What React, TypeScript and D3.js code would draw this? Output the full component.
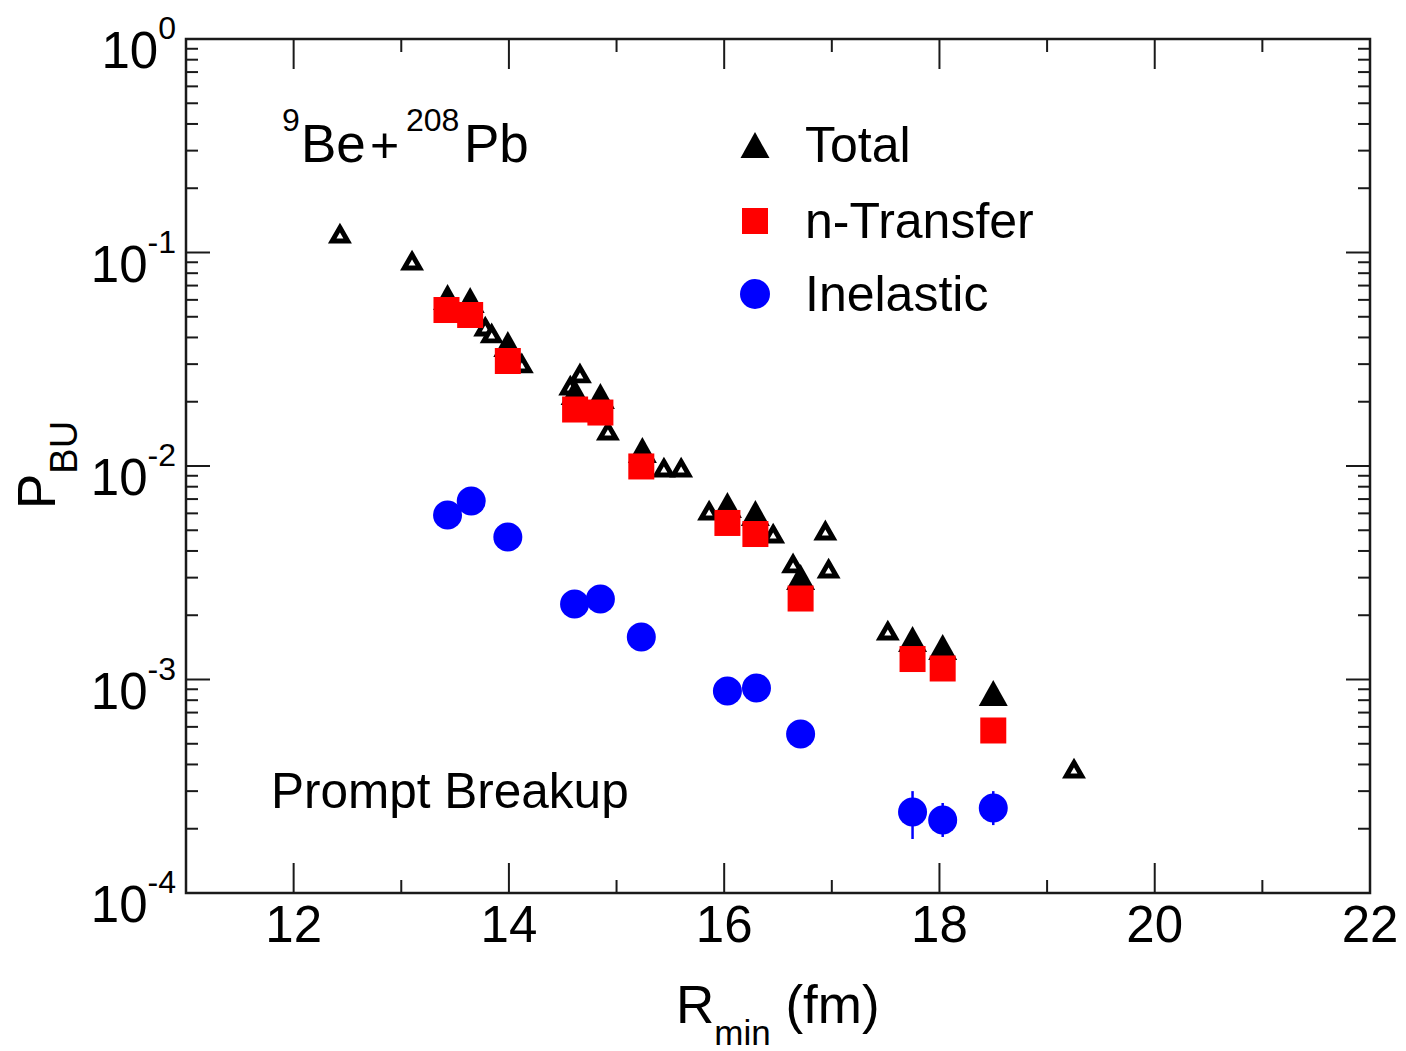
import React from "react";
import * as d3 from "d3";

// ---- data ----
const openTriX = [12.43, 13.10, 13.78, 13.84, 14.12, 14.66, 14.57, 14.92, 15.44, 15.60, 15.86, 16.455, 16.94, 16.97, 16.64, 17.52, 19.25];
const openTriY = [0.1234, 0.0922, 0.04525, 0.04198, 0.03038, 0.02727, 0.02395, 0.01474, 0.00989, 0.00989, 0.00622, 0.004855, 0.005015, 0.003328, 0.003514, 0.001705, 0.000385];

const totalX = [13.43, 13.64, 13.99, 14.615, 14.85, 15.24, 16.03, 16.29, 16.71, 17.75, 18.03, 18.50];
const totalY = [0.06188, 0.0599, 0.03727, 0.02221, 0.02128, 0.01188, 0.00657, 0.00602, 0.00302, 0.001548, 0.00142, 0.000865];

const transferX = [13.42, 13.64, 13.99, 14.615, 14.85, 15.23, 16.03, 16.29, 16.71, 17.75, 18.03, 18.50];
const transferY = [0.05378, 0.05097, 0.03103, 0.01839, 0.0178, 0.00995, 0.00541, 0.004802, 0.002395, 0.001247, 0.001126, 0.000577];

const inelasticX = [13.43, 13.65, 13.99, 14.61, 14.85, 15.23, 16.03, 16.30, 16.71, 17.75, 18.03, 18.50];
const inelasticY = [0.005894, 0.006855, 0.00465, 0.002257, 0.002382, 0.001581, 0.000883, 0.000912, 0.000555, 0.0002395, 0.0002197, 0.0002501];
const inelasticLo = [null, null, null, null, null, null, null, null, null, 0.000179, 0.000183, 0.000208];
const inelasticHi = [null, null, null, null, null, null, null, null, null, 0.0003, 0.000264, 0.0003];

const xMajorTicks = [12, 14, 16, 18, 20, 22];
const xMinorTicks = [13, 15, 17, 19, 21];
const yExponents = [0, -1, -2, -3, -4];
const legendLabels = ["Total", "n-Transfer", "Inelastic"];

const FONT = "'Liberation Sans', Arial, Helvetica, sans-serif";
const INK = "#1a1a1a";

export default function App() {
  const x = d3.scaleLinear().domain([11, 22]).range([186, 1370]);
  const y = d3.scaleLog().domain([1e-4, 1]).range([893, 39]);
  const [x0, x1] = x.range();
  const [yb, yt] = y.range();

  const yMinor: number[] = [];
  for (let e = -4; e < 0; e++) for (let k = 2; k <= 9; k++) yMinor.push(k * Math.pow(10, e));

  const filledTri = "M0,-13 L14.5,13 L-14.5,13 Z";
  const openTri = "M0,-5.47 L7.74,7.94 L-7.74,7.94 Z";

  const legendY = [145, 221, 294];

  return (
    <svg width={1406} height={1051} style={{ position: "absolute", left: 0, top: 0, background: "#fff" }} fontFamily={FONT}>
      <rect x={0} y={0} width={1406} height={1051} fill="#fff" />
      {/* ticks */}
      <g stroke={INK} strokeWidth={2}>
        {xMajorTicks.map((t) => (
          <g key={"xM" + t}>
            <line x1={x(t)} x2={x(t)} y1={yb} y2={yb - 30} />
            <line x1={x(t)} x2={x(t)} y1={yt} y2={yt + 30} />
          </g>
        ))}
        {xMinorTicks.map((t) => (
          <g key={"xm" + t}>
            <line x1={x(t)} x2={x(t)} y1={yb} y2={yb - 13} />
            <line x1={x(t)} x2={x(t)} y1={yt} y2={yt + 13} />
          </g>
        ))}
        {yExponents.map((e) => (
          <g key={"yM" + e}>
            <line x1={x0} x2={x0 + 24} y1={y(Math.pow(10, e))} y2={y(Math.pow(10, e))} />
            <line x1={x1} x2={x1 - 24} y1={y(Math.pow(10, e))} y2={y(Math.pow(10, e))} />
          </g>
        ))}
        {yMinor.map((v, i) => (
          <g key={"ym" + i}>
            <line x1={x0} x2={x0 + 12} y1={y(v)} y2={y(v)} />
            <line x1={x1} x2={x1 - 12} y1={y(v)} y2={y(v)} />
          </g>
        ))}
      </g>
      <rect x={x0} y={yt} width={x1 - x0} height={yb - yt} fill="none" stroke={INK} strokeWidth={2.5} />

      {/* tick labels */}
      {xMajorTicks.map((t) => (
        <text key={"xl" + t} x={x(t)} y={942} fontSize={51} textAnchor="middle" fill="#000">
          {t}
        </text>
      ))}
      {yExponents.map((e) => (
        <text key={"yl" + e} x={176} y={y(Math.pow(10, e)) + 29} fontSize={51} textAnchor="end" fill="#000">
          10
          <tspan fontSize={32} dy={-29}>
            {e === 0 ? "0" : "-" + Math.abs(e)}
          </tspan>
        </text>
      ))}

      {/* axis titles */}
      <text x={676} y={1023} fill="#000">
        <tspan fontSize={53}>R</tspan>
        <tspan fontSize={35} dy={22}>min</tspan>
        <tspan fontSize={53} dy={-22}> (fm)</tspan>
      </text>
      <text transform="translate(55,509) rotate(-90)" fill="#000">
        <tspan fontSize={53}>P</tspan>
        <tspan fontSize={38} dy={22}>BU</tspan>
      </text>

      {/* annotations */}
      <text fill="#000">
        <tspan x={282} y={131} fontSize={32}>9</tspan>
        <tspan x={301} y={162} fontSize={53}>Be</tspan>
        <tspan x={370} y={162} fontSize={50}>+</tspan>
        <tspan x={406} y={131} fontSize={32}>208</tspan>
        <tspan x={464} y={162} fontSize={53}>Pb</tspan>
      </text>
      <text x={271} y={808} fontSize={49.5} fill="#000">Prompt Breakup</text>

      {/* data */}
      <g>
        {openTriX.map((v, i) => (
          <path key={"o" + i} d={openTri} transform={`translate(${x(v)},${y(openTriY[i])})`} fill="#fff" stroke="#000" strokeWidth={4.9} strokeLinejoin="miter" />
        ))}
        {totalX.map((v, i) => (
          <path key={"t" + i} d={filledTri} transform={`translate(${x(v)},${y(totalY[i])})`} fill="#000" />
        ))}
        {transferX.map((v, i) => (
          <rect key={"s" + i} x={x(v) - 13} y={y(transferY[i]) - 13} width={26} height={26} fill="#ff0000" />
        ))}
        {inelasticX.map((v, i) =>
          inelasticLo[i] != null ? (
            <line key={"e" + i} x1={x(v)} x2={x(v)} y1={y(inelasticLo[i] as number)} y2={y(inelasticHi[i] as number)} stroke="#0000ff" strokeWidth={2.5} />
          ) : null
        )}
        {inelasticX.map((v, i) => (
          <circle key={"c" + i} cx={x(v)} cy={y(inelasticY[i])} r={14.5} fill="#0000ff" />
        ))}
      </g>

      {/* legend */}
      <g>
        <path d={filledTri} transform={`translate(755,${legendY[0]})`} fill="#000" />
        <rect x={742} y={legendY[1] - 13} width={26} height={26} fill="#ff0000" />
        <circle cx={755} cy={legendY[2]} r={15} fill="#0000ff" />
        {legendLabels.map((l, i) => (
          <text key={l} x={805} y={legendY[i] + 17} fontSize={50} fill="#000">
            {l}
          </text>
        ))}
      </g>
    </svg>
  );
}
